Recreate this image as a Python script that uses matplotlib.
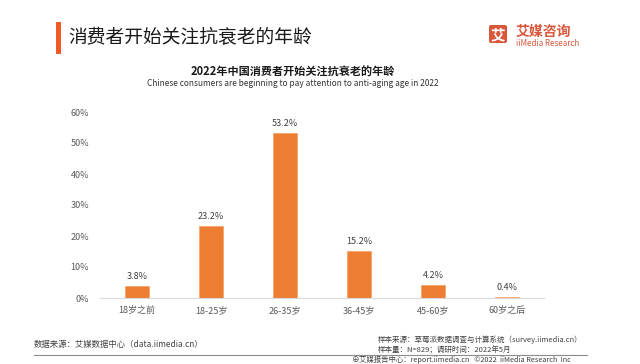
import matplotlib
matplotlib.use("Agg")
import matplotlib.pyplot as plt
from matplotlib.patches import Rectangle, FancyBboxPatch
from matplotlib.lines import Line2D

plt.rcParams['font.family'] = ['Noto Sans CJK SC', 'DejaVu Sans']

categories = ['18岁之前', '18-25岁', '26-35岁', '36-45岁', '45-60岁', '60岁之后']
values = [3.8, 23.2, 53.2, 15.2, 4.2, 0.4]
yticks = [0, 10, 20, 30, 40, 50, 60]
ytick_labels = ['0%', '10%', '20%', '30%', '40%', '50%', '60%']

title = '消费者开始关注抗衰老的年龄'
chart_title = '2022年中国消费者开始关注抗衰老的年龄'
chart_subtitle = 'Chinese consumers are beginning to pay attention to anti-aging age in 2022'
source_left = '数据来源：艾媒数据中心（data.iimedia.cn）'
source_right1 = '样本来源：草莓派数据调查与计算系统（survey.iimedia.cn）'
source_right2 = '样本量：N=829；调研时间：2022年5月'
footer = '艾媒报告中心：report.iimedia.cn   ©2022  iiMedia Research  Inc'

W, H = 640, 364
fig = plt.figure(figsize=(6.4, 3.64), dpi=100)
fig.patch.set_facecolor('white')

def fx(x):
    return x / W

def fy(y):
    return 1 - y / H

# Axes
ax = fig.add_axes([fx(100), fy(298), fx(544) - fx(100), fy(112) - fy(298)])
x = list(range(len(categories)))
bars = ax.bar(x, values, width=0.325, color='#ED7D31', edgecolor='#F4A46E', linewidth=0.6)
ax.set_xlim(-0.5, len(categories) - 0.5)
ax.set_ylim(0, 60)
ax.set_yticks(yticks)
ax.set_yticklabels(ytick_labels)
ax.set_xticks(x)
ax.set_xticklabels(categories)
ax.tick_params(axis='both', length=0, labelsize=6.5, colors='#595959')
ax.tick_params(axis='y', pad=8)
ax.tick_params(axis='x', pad=6)
for s in ['top', 'right', 'left']:
    ax.spines[s].set_visible(False)
ax.spines['bottom'].set_color('#D9D9D9')
ax.spines['bottom'].set_linewidth(0.8)
for xi, v in zip(x, values):
    ax.annotate(f'{v:.1f}%', (xi, v), xytext=(0, 3.5), textcoords='offset points',
                ha='center', va='bottom', fontsize=6.5, color='#404040')

# Title block
fig.add_artist(Rectangle((fx(56), fy(54)), fx(5), fy(22) - fy(54), transform=fig.transFigure,
                         facecolor='#F05A28', edgecolor='none'))
fig.text(fx(68), fy(38), title, fontsize=13.5, color='#1a1a1a', va='center', ha='left')

# Logo
fig.add_artist(FancyBboxPatch((fx(489), fy(43)), fx(18), fy(25) - fy(43),
                              boxstyle='round,pad=0,rounding_size=0.004',
                              transform=fig.transFigure, facecolor='#D9573B', edgecolor='none'))
fig.text(fx(498), fy(34), '艾', fontsize=10.5, color='white', ha='center', va='center', fontweight='bold')
fig.text(fx(516), fy(32), '艾媒咨询', fontsize=10, color='#D9573B', ha='left', va='center', fontweight='bold')
fig.text(fx(516), fy(44), 'iiMedia Research', fontsize=5.8, color='#D9573B', ha='left', va='center')

# Chart titles
fig.text(fx(293), fy(72), chart_title, fontsize=8, color='#1a1a1a', ha='center', va='center', fontweight='bold')
fig.text(fx(293), fy(83), chart_subtitle, fontsize=6, color='#333333', ha='center', va='center')

# Footer
fig.text(fx(34), fy(345), source_left, fontsize=6, color='#404040', ha='left', va='center')
fig.text(fx(378), fy(340), source_right1, fontsize=5.4, color='#404040', ha='left', va='center')
fig.text(fx(378), fy(350), source_right2, fontsize=5.4, color='#404040', ha='left', va='center')
fig.add_artist(Line2D([fx(34), fx(587)], [fy(355), fy(355)], transform=fig.transFigure,
                      color='#8C8C8C', linewidth=0.8))
fig.text(fx(352), fy(360), '⊕', fontsize=5.5, color='#404040', ha='left', va='center')
fig.text(fx(359), fy(360), footer, fontsize=5.3, color='#404040', ha='left', va='center')

fig.savefig('out.png', dpi=100, facecolor='white')
